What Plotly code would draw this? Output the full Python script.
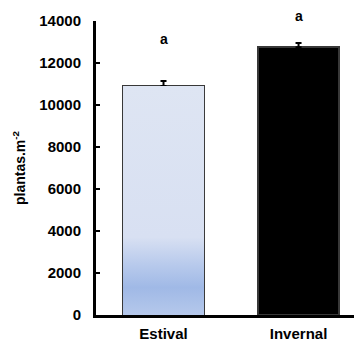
import plotly.graph_objects as go

categories = ["Estival", "Invernal"]
values = [10900, 12750]
errors = [240, 200]
letters = ["a", "a"]
y_ticks = [0, 2000, 4000, 6000, 8000, 10000, 12000, 14000]

FONT = "Arial, Liberation Sans, sans-serif"
xpos = list(range(len(categories)))
bw = 0.6
y_max = 14000

fig = go.Figure()

# gradient-filled first bar (Plotly bars have no gradient; use a filled polygon)
x0 = xpos[0]
fig.add_trace(go.Scatter(
    x=[x0 - bw / 2, x0 + bw / 2, x0 + bw / 2, x0 - bw / 2, x0 - bw / 2],
    y=[0, 0, values[0], values[0], 0],
    fill="toself", mode="lines", line=dict(width=0),
    fillgradient=dict(
        type="vertical", start=0, stop=values[0],
        colorscale=[[0, "#B5C8EB"], [0.12, "#A0B9E6"], [0.22, "#B8CAEC"],
                    [0.34, "#D8E0F2"], [1, "#DEE5F3"]]),
    hoverinfo="skip", showlegend=False))

fig.add_trace(go.Bar(
    x=xpos, y=values, width=bw,
    marker=dict(color=["rgba(0,0,0,0)", "#000000"],
                line=dict(color="#383838", width=2)),
    error_y=dict(type="data", array=errors, arrayminus=[0, 0], symmetric=False,
                 color="#000000", thickness=2, width=3),
    showlegend=False))

letter_y = [13150, 14240]
for i, t in enumerate(letters):
    fig.add_annotation(x=xpos[i], y=letter_y[i] / y_max, text=f"<b>{t}</b>",
                       xref="x", yref="y domain", showarrow=False,
                       xanchor="center", yanchor="middle",
                       font=dict(family=FONT, size=14, color="#000000"))

# page body has an 8px margin, so the figure is 8px smaller than the window
fig.update_layout(
    width=354, height=334,
    margin=dict(l=88, r=0, t=13, b=27),
    paper_bgcolor="white", plot_bgcolor="white",
    font=dict(family=FONT, color="#000000"),
    bargap=0,
)
fig.update_xaxes(
    range=[-0.5, 1.47], tickmode="array", tickvals=xpos, ticktext=categories,
    showline=True, linecolor="#000000", linewidth=3, ticks="",
    showgrid=False, zeroline=False, automargin=False,
    tickfont=dict(family=FONT, size=15, color="#000000", weight="bold"),
    ticklabelstandoff=3,
)
fig.update_yaxes(
    range=[0, y_max], tickmode="array", tickvals=y_ticks,
    ticktext=[str(v) for v in y_ticks],
    showline=True, linecolor="#000000", linewidth=3,
    ticks="inside", ticklen=4, tickwidth=2, tickcolor="#000000",
    showgrid=False, zeroline=False, automargin=False,
    tickfont=dict(family=FONT, size=15, color="#000000", weight="bold"),
    ticklabelstandoff=9,
    title=dict(text="<b>plantas.m<sup>-2</sup></b>", standoff=11,
               font=dict(family=FONT, size=14, color="#000000")),
)

fig.write_html("out.html")
